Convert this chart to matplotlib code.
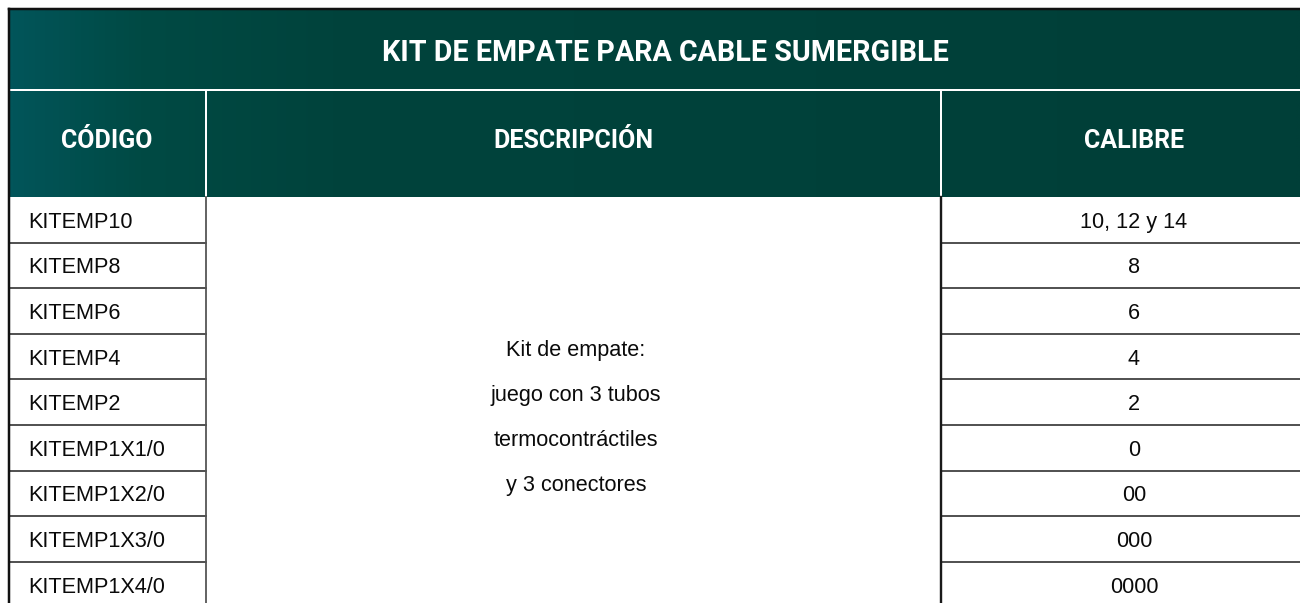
import numpy as np
import matplotlib
matplotlib.use('Agg')
import matplotlib.pyplot as plt
from matplotlib.colors import LinearSegmentedColormap

# ── Table content ───────────────────────────────────────────
title = "KIT DE EMPATE PARA CABLE SUMERGIBLE"
headers = ["CÓDIGO", "DESCRIPCIÓN", "CALIBRE"]
codes = ["KITEMP10", "KITEMP8", "KITEMP6", "KITEMP4", "KITEMP2",
         "KITEMP1X1/0", "KITEMP1X2/0", "KITEMP1X3/0", "KITEMP1X4/0"]
calibres = ["10, 12 y 14", "8", "6", "4", "2", "0", "00", "000", "0000"]
description = ["Kit de empate:", "juego con 3 tubos",
               "termocontráctiles", "y 3 conectores"]

# ── Layout (pixels) ─────────────────────────────────────────
W, H = 1300, 603
left, top = 9, 9
title_bottom = 90
head_bottom = 197
row_h = 45.6
col_x = [left, 206, 941, 1327]
px = 0.72  # 1 px in points at dpi 100

fig = plt.figure(figsize=(13, 6.03), dpi=100)
ax = fig.add_axes([0, 0, 1, 1])
ax.set_xlim(0, W)
ax.set_ylim(H, 0)
ax.axis('off')

# header gradient band
cmap = LinearSegmentedColormap.from_list(
    'hdr', [(0.0, '#02555a'), (0.1, '#004a44'), (0.25, '#00433c'), (1.0, '#003f38')])
grad = np.linspace(0, 1, 512).reshape(1, -1)
ax.imshow(grad, cmap=cmap, aspect='auto', extent=[left, W, head_bottom, top],
          interpolation='bilinear', zorder=0)

# white separators inside header
ax.plot([left, W], [title_bottom, title_bottom], color='white', lw=2 * px, zorder=2)
for x in col_x[1:3]:
    ax.plot([x, x], [title_bottom, head_bottom], color='white', lw=2 * px, zorder=2)

# header text
ax.text(665, 61, title, color='white', fontsize=20.6,
        fontfamily='Roboto', fontweight='bold', ha='center', va='baseline', zorder=3)
for i, h in enumerate(headers):
    cx = (col_x[i] + col_x[i + 1]) / 2
    if i == 0:
        cx = 107
    ax.text(cx, 148, h, color='white', fontsize=18, fontfamily='Roboto',
            fontweight='bold', ha='center', va='baseline', zorder=3)

# body rows
body_font = dict(fontsize=15.6, fontfamily=['Liberation Sans', 'DejaVu Sans'],
                 color='#0a0a0a', va='baseline', zorder=3)
for i, (code, cal) in enumerate(zip(codes, calibres)):
    y0 = head_bottom + i * row_h
    yc = y0 + row_h / 2
    ax.text(28, yc + 8, code, ha='left', **body_font)
    ax.text(1134, yc + 8, cal, ha='center', **body_font)
    if i > 0:
        ax.plot([left, col_x[1]], [y0, y0], color='#404040', lw=1.8 * px, zorder=2)
        ax.plot([col_x[2], W], [y0, y0], color='#404040', lw=1.8 * px, zorder=2)

# merged description cell
desc_top = 348
for j, line in enumerate(description):
    ax.text(576, desc_top + j * 45 + 8, line, ha='center', **body_font)

# body verticals
ax.plot([col_x[1], col_x[1]], [head_bottom, H], color='#555555', lw=1.8 * px, zorder=2)
ax.plot([col_x[2], col_x[2]], [head_bottom, H], color='#1a1a1a', lw=2.4 * px, zorder=2)

# outer frame (top and left)
ax.plot([left, W], [top, top], color='#111111', lw=2.5 * px, zorder=4)
ax.plot([left, left], [top, H], color='#111111', lw=2.5 * px, zorder=4)

fig.savefig('out.png', dpi=100, facecolor='white')
